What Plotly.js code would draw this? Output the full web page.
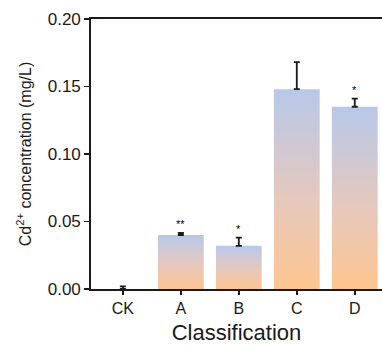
<!DOCTYPE html>
<html>
<head>
<meta charset="utf-8">
<script src="https://cdn.plot.ly/plotly-3.0.1.min.js"></script>
<style>html,body{margin:0;padding:0;background:#fff;}#chart{width:382px;height:345px;}</style>
</head>
<body>
<div id="chart"></div>
<script>
const categories = ["CK", "A", "B", "C", "D"];
const values = [0.000, 0.040, 0.032, 0.148, 0.135];
const errors = [0.002, 0.0015, 0.006, 0.020, 0.006];
const significance = ["", "**", "*", "", "*"];
const yTicks = [0, 0.05, 0.10, 0.15, 0.20];

const barWidth = 0.79;
const topColor = "#b8c8ea";
const bottomColor = "#fdc58f";

const traces = [];
categories.forEach((c, i) => {
  if (values[i] <= 0) return;
  const x0 = i - barWidth / 2, x1 = i + barWidth / 2;
  traces.push({
    type: "scatter",
    mode: "none",
    x: [x0, x0, x1, x1, x0],
    y: [0, values[i], values[i], 0, 0],
    fill: "toself",
    fillgradient: {type: "vertical", colorscale: [[0, bottomColor], [0.45, "#e6c8bd"], [1, topColor]]},
    hoverinfo: "skip",
    showlegend: false
  });
});
traces.push({
  type: "scatter",
  mode: "markers",
  x: categories.map((c, i) => i),
  y: values,
  marker: {size: 1, opacity: 0},
  error_y: {type: "data", symmetric: false, array: errors, arrayminus: errors.map(() => 0),
            color: "#1a1a1a", thickness: 1.8, width: 3},
  showlegend: false,
  hoverinfo: "y"
});

const annotations = significance.map((s, i) => ({
  x: i, y: values[i] + errors[i], xref: "x", yref: "y",
  text: s, showarrow: false, yanchor: "bottom", yshift: 1,
  font: {family: "Liberation Sans, Arial, sans-serif", size: 11, color: "#000"}
})).filter(a => a.text);

const layout = {
  width: 382, height: 345,
  margin: {l: 91, r: 0, t: 19, b: 56},
  paper_bgcolor: "#fff", plot_bgcolor: "#fff",
  font: {family: "Liberation Sans, Arial, sans-serif", color: "#1a1a1a"},
  xaxis: {
    range: [-0.55, 4.47],
    tickvals: categories.map((c, i) => i),
    ticktext: categories,
    showline: true, mirror: true, linecolor: "#1a1a1a", linewidth: 1.8,
    ticks: "outside", ticklen: 4, tickwidth: 1.5, tickcolor: "#1a1a1a",
    showgrid: false, zeroline: false,
    tickfont: {size: 16},
    title: {text: "Classification", font: {size: 22}, standoff: 8}
  },
  yaxis: {
    range: [0, 0.2],
    tickvals: yTicks,
    tickformat: ".2f",
    showline: true, linecolor: "#1a1a1a", linewidth: 1.8,
    ticks: "outside", ticklen: 5, tickwidth: 1.5, tickcolor: "#1a1a1a",
    showgrid: false, zeroline: false,
    tickfont: {size: 17},
    title: {text: "Cd<sup>2+</sup> concentration (mg/L)", font: {size: 16}, standoff: 12}
  },
  annotations: annotations
};

Plotly.newPlot("chart", traces, layout, {displayModeBar: false, staticPlot: true});
</script>
</body>
</html>
